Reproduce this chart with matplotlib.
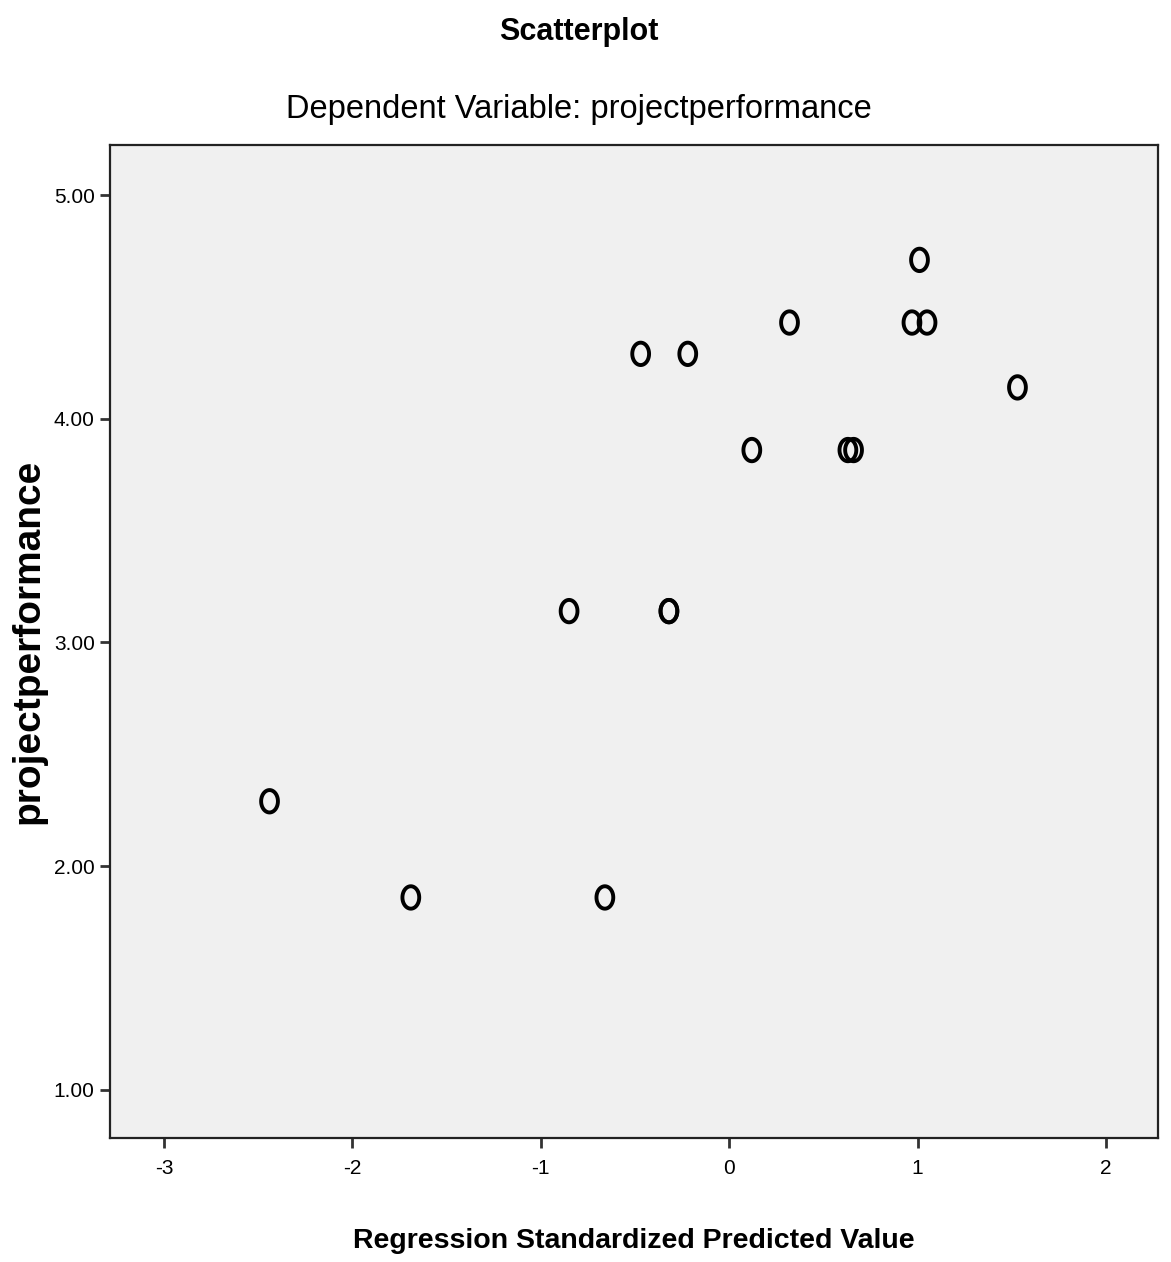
import numpy as np
import matplotlib
matplotlib.use("Agg")
import matplotlib.pyplot as plt
from matplotlib.path import Path

# ======================
# DATA
# ======================
pred_values = [-2.44, -1.69, -0.66, -0.85, -0.32, -0.32, -0.47, -0.22,
               0.12, 0.32, 0.63, 0.66, 0.97, 1.05, 1.01, 1.53]
performance = [2.29, 1.86, 1.86, 3.14, 3.14, 3.14, 4.29, 4.29,
               3.86, 4.43, 3.86, 3.86, 4.43, 4.43, 4.71, 4.14]
x_ticks = [-3, -2, -1, 0, 1, 2]
y_ticks = [1.0, 2.0, 3.0, 4.0, 5.0]

# ======================
# STYLE
# ======================
FONT = ['Liberation Sans', 'DejaVu Sans']

# slightly tall ellipse marker, as in the SPSS export
t = np.linspace(0, 2 * np.pi, 60)
ellipse = Path(np.column_stack([0.75 * np.cos(t), np.sin(t)]), closed=True)

fig = plt.figure(figsize=(11.71, 12.62), dpi=100)
ax = fig.add_axes([0.0939, 0.0983, 0.895, 0.7867])
ax.set_facecolor('#f0f0f0')

ax.scatter(pred_values, performance, marker=ellipse, s=260,
           facecolors='none', edgecolors='black', linewidths=2.8, zorder=3)

ax.set_xlim(-3.287, 2.276)
ax.set_ylim(0.785, 5.223)
ax.set_xticks(x_ticks)
ax.set_xticklabels([str(v) for v in x_ticks], family=FONT, fontsize=15)
ax.set_yticks(y_ticks)
ax.set_yticklabels([f"{v:.2f}" for v in y_ticks], family=FONT, fontsize=15)
ax.tick_params(direction='out', length=7, width=2, color='#333333', pad=4)
ax.tick_params(axis='x', pad=8)

for side in ax.spines.values():
    side.set_linewidth(1.6)
    side.set_color('#222222')

ax.set_xlabel('Regression Standardized Predicted Value', family=FONT,
              fontsize=20.5, fontweight='bold', labelpad=36)
fig.text(28 / 1171, 0.492, 'projectperformance', family=FONT, fontsize=28,
         fontweight='bold', rotation=90, ha='center', va='center')

fig.text(0.494, 0.975, 'Scatterplot', family=FONT, fontsize=22,
         fontweight='bold', ha='center', va='center')
fig.text(0.494, 0.913, 'Dependent Variable: projectperformance', family=FONT,
         fontsize=23.5, ha='center', va='center')

fig.savefig('out.png', dpi=100, facecolor='white')
